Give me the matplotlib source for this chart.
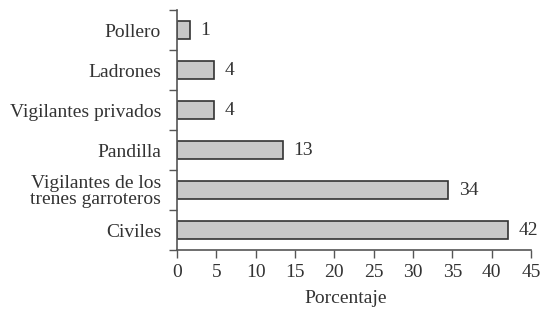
import matplotlib.pyplot as plt
import numpy as np

categorias = ["Pollero", "Ladrones", "Vigilantes privados", "Pandilla",
              "Vigilantes de los\ntrenes garroteros", "Civiles"]
valores = [1.6, 4.7, 4.7, 13.5, 34.5, 42.1]
etiquetas = ["1", "4", "4", "13", "34", "42"]
xticks = [0, 5, 10, 15, 20, 25, 30, 35, 40, 45]

plt.rcParams['font.family'] = ['Liberation Serif', 'DejaVu Serif']
txt = '#333333'
fs = 14

fig = plt.figure(figsize=(5.4, 3.09), dpi=100)
ax = fig.add_axes([0.3278, 0.1909, 0.6556, 0.7767])

y = np.arange(len(categorias))
ax.barh(y, valores, height=0.44, color='#c8c8c8', edgecolor='#333333', linewidth=1.2)

for yi, v, lab in zip(y, valores, etiquetas):
    ax.annotate(lab, (v, yi), xytext=(7.5, 0), textcoords='offset points',
                va='center', ha='left', fontsize=fs, color=txt)

ax.set_ylim(len(categorias) - 0.5, -0.5)
ax.set_xlim(0, 45)
ax.set_xticks(xticks)
ax.set_yticks(y)
ax.set_yticklabels(categorias, fontsize=fs, color=txt, linespacing=0.95)
ax.set_yticks(np.arange(-0.5, len(categorias)), minor=True)
ax.tick_params(axis='y', which='major', length=0, pad=11.5)
ax.tick_params(axis='y', which='minor', length=6, width=1, color='#555555')
ax.tick_params(axis='x', length=6, width=1, color='#555555', labelsize=fs,
               labelcolor=txt, pad=4)

for s in ['top', 'right']:
    ax.spines[s].set_visible(False)
for s in ['left', 'bottom']:
    ax.spines[s].set_color('#555555')
    ax.spines[s].set_linewidth(1.2)

ax.set_xlabel("Porcentaje", fontsize=fs, color=txt)
ax.xaxis.set_label_coords(0.475, -0.165)

fig.savefig("out.png", dpi=100)
